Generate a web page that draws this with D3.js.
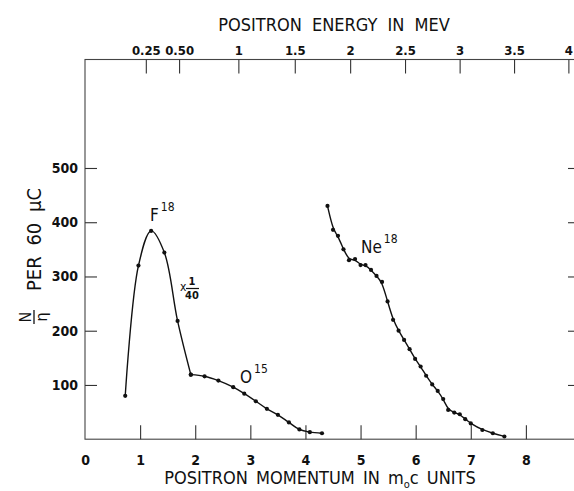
<!DOCTYPE html>
<html>
<head>
<meta charset="utf-8">
<script src="https://cdn.jsdelivr.net/npm/d3@7/dist/d3.min.js"></script>
<style>
  html, body { margin: 0; padding: 0; background: #fff; }
  svg { display: block; }
  text { font-family: "DejaVu Sans Condensed", "Liberation Sans Narrow", "DejaVu Sans", sans-serif; fill: #111; }
</style>
</head>
<body>
<svg id="chart" width="574" height="491"></svg>
<script>
// Positron momentum (m0c units) and counts N/eta per 60 microcoulomb
const f18Momentum = [0.73, 0.97, 1.20, 1.44, 1.68, 1.92];
const f18Counts   = [80, 320, 384, 344, 218, 119];

const o15Momentum = [1.92, 2.17, 2.42, 2.69, 2.89, 3.10, 3.30, 3.50, 3.70, 3.89, 4.08, 4.30];
const o15Counts   = [119, 116, 108, 96, 84, 70, 56, 45, 31, 18, 13, 11];

const ne18Momentum = [4.40, 4.50, 4.59, 4.69, 4.79, 4.90, 5.00, 5.09, 5.19, 5.29, 5.39, 5.49,
                      5.59, 5.69, 5.79, 5.89, 5.99, 6.09, 6.19, 6.30, 6.40, 6.50, 6.59, 6.70,
                      6.80, 6.90, 7.00, 7.21, 7.40, 7.61];
const ne18Counts   = [430, 386, 375, 350, 330, 332, 321, 321, 312, 301, 290, 254,
                      220, 200, 183, 166, 148, 134, 117, 101, 89, 74, 54, 49,
                      46, 37, 29, 17, 11, 5];

// Axis ticks
const momentumTicks = [0, 1, 2, 3, 4, 5, 6, 7, 8];
const countTicks = [100, 200, 300, 400, 500];
const energyTicks = [0.25, 0.5, 1, 1.5, 2, 2.5, 3, 3.5, 4];
const energyLabels = ["0.25", "0.50", "1", "1.5", "2", "2.5", "3", "3.5", "4"];

const svg = d3.select("#chart");

const x = d3.scaleLinear().domain([0, 9]).range([85, 581]);
const y = d3.scaleLinear().domain([0, 700]).range([439.2, 59.5]);

// Kinetic energy (MeV) -> momentum in m0c units
const MEC2 = 0.511;
const energyToMomentum = e => { const w = e / MEC2 + 1; return Math.sqrt(w * w - 1); };

// Frame
svg.append("rect")
  .attr("x", x(0)).attr("y", y(700))
  .attr("width", x(9) - x(0)).attr("height", y(0) - y(700))
  .attr("fill", "none").attr("stroke", "#444").attr("stroke-width", 1.1);

function styleAxis(size) {
  return g => {
    g.select(".domain").remove();
    g.selectAll(".tick line").attr("stroke", "#333").attr("stroke-width", 1.1);
    g.selectAll(".tick text").attr("font-size", size).attr("font-weight", "bold").attr("fill", "#111");
  };
}

// Bottom axis (momentum)
svg.append("g")
  .attr("transform", `translate(0,${y(0)})`)
  .call(d3.axisBottom(x).tickValues(momentumTicks).tickFormat(d3.format("d"))
        .tickSizeInner(-14).tickSizeOuter(0).tickPadding(16))
  .call(styleAxis(14))
  .call(g => g.selectAll(".tick").filter(d => d === 0).select("line").remove());

// Top axis (energy, placed at the corresponding momentum)
svg.append("g")
  .attr("transform", `translate(0,${y(700)})`)
  .call(d3.axisTop(x).tickValues(energyTicks.map(energyToMomentum))
        .tickFormat((d, i) => energyLabels[i])
        .tickSizeInner(-14).tickSizeOuter(0).tickPadding(5))
  .call(styleAxis(13));

// Left axis (counts)
svg.append("g")
  .attr("transform", `translate(${x(0)},0)`)
  .call(d3.axisLeft(y).tickValues(countTicks).tickFormat(d3.format("d"))
        .tickSizeInner(-12).tickSizeOuter(0).tickPadding(7))
  .call(styleAxis(14));

// Right axis ticks
svg.append("g")
  .attr("transform", `translate(${x(9)},0)`)
  .call(d3.axisRight(y).tickValues(countTicks).tickFormat("")
        .tickSizeInner(-13).tickSizeOuter(0))
  .call(styleAxis(14));

// Axis titles
svg.append("text")
  .attr("x", 334).attr("y", 31)
  .attr("text-anchor", "middle").attr("font-size", 18)
  .attr("word-spacing", 5)
  .text("POSITRON ENERGY IN MEV");

const xt = svg.append("text")
  .attr("x", 320).attr("y", 484)
  .attr("text-anchor", "middle").attr("font-size", 18)
  .attr("word-spacing", 3);
xt.append("tspan").text("POSITRON MOMENTUM IN m");
xt.append("tspan").attr("font-size", 11).attr("dy", 4).text("o");
xt.append("tspan").attr("dy", -4).text("c UNITS");

// Y title: N/eta PER 60 microcoulomb, rotated
const yl = svg.append("g").attr("transform", "translate(34,317) rotate(-90)");
yl.append("text").attr("x", 0).attr("y", -3).attr("text-anchor", "middle")
  .attr("font-size", 16).text("N");
yl.append("line").attr("x1", -7).attr("x2", 7).attr("y1", 0).attr("y2", 0)
  .attr("stroke", "#111").attr("stroke-width", 1.3);
yl.append("text").attr("x", 0).attr("y", 13).attr("text-anchor", "middle")
  .attr("font-size", 16).text("η");
yl.append("text").attr("x", 26).attr("y", 7).attr("font-size", 20)
  .attr("word-spacing", 5).text("PER 60 μC");

// Curves
const line = curve => d3.line().x(d => x(d[0])).y(d => y(d[1])).curve(curve);
const zip = (a, b) => a.map((v, i) => [v, b[i]]);

const series = [
  { pts: zip(f18Momentum, f18Counts), curve: d3.curveCatmullRom.alpha(0.5) },
  { pts: zip(o15Momentum, o15Counts), curve: d3.curveCatmullRom.alpha(0.5) },
  { pts: zip(ne18Momentum, ne18Counts), curve: d3.curveBasis }
];

series.forEach(s => {
  svg.append("path").datum(s.pts)
    .attr("d", line(s.curve))
    .attr("fill", "none").attr("stroke", "#111").attr("stroke-width", 1.4);
  svg.append("g").selectAll("circle").data(s.pts).join("circle")
    .attr("cx", d => x(d[0])).attr("cy", d => y(d[1])).attr("r", 2.1)
    .attr("fill", "#111");
});

// Isotope labels
function isotope(px, py, sym, mass) {
  const t = svg.append("text").attr("x", px).attr("y", py).attr("font-size", 17);
  t.append("tspan").text(sym);
  t.append("tspan").attr("font-size", 12).attr("dy", -10).attr("dx", 2).text(mass);
}
isotope(150, 221, "F", "18");
isotope(240, 383, "O", "15");
isotope(361, 253, "Ne", "18");

// Scale factor x 1/40 on the F18 curve
svg.append("text").attr("x", 180).attr("y", 291).attr("font-size", 12).text("x");
svg.append("text").attr("x", 192).attr("y", 285).attr("text-anchor", "middle")
  .attr("font-size", 11).attr("font-weight", "bold").text("1");
svg.append("line").attr("x1", 186).attr("x2", 199).attr("y1", 288.5).attr("y2", 288.5)
  .attr("stroke", "#111").attr("stroke-width", 1.2);
svg.append("text").attr("x", 192).attr("y", 299).attr("text-anchor", "middle")
  .attr("font-size", 11).attr("font-weight", "bold").text("40");
</script>
</body>
</html>
